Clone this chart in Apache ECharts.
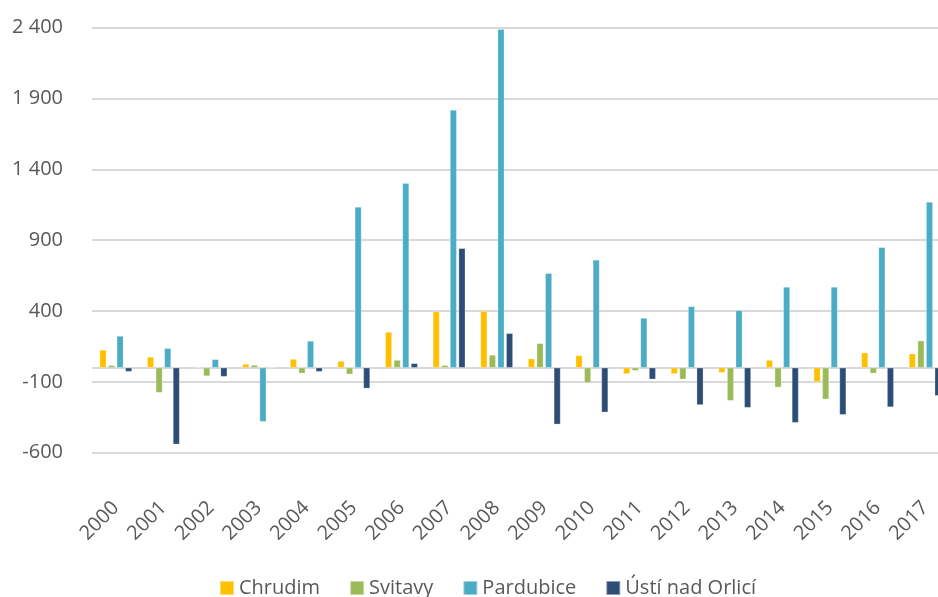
<!DOCTYPE html>
<html>
<head>
<meta charset="utf-8">
<script src="https://cdn.jsdelivr.net/npm/echarts@6/dist/echarts.min.js"></script>
<style>
  html, body { margin: 0; padding: 0; background: #fff; overflow: hidden; }
  #chart { width: 960px; height: 597px; }
</style>
</head>
<body>
<div id="chart"></div>
<script>
// Year-on-year change by district
const years = ['2000','2001','2002','2003','2004','2005','2006','2007','2008',
               '2009','2010','2011','2012','2013','2014','2015','2016','2017'];
const chrudim   = [125, 76, 0, 26, 61, 47, 252, 396, 400, 64, 87, -44, -44, -35, 54, -101, 106, 99];
const svitavy   = [17, -176, -59, 19, -40, -47, 54, 17, 90, 172, -106, -21, -82, -233, -139, -223, -40, 191];
const pardubice = [224, 137, 59, -381, 189, 1135, 1302, 1820, 2390, 667, 761, 351, 433, 405, 570, 570, 850, 1170];
const usti      = [-28, -541, -63, 0, -28, -146, 31, 843, 243, -400, -315, -82, -263, -282, -388, -332, -278, -198];

const seriesNames  = ['Chrudim', 'Svitavy', 'Pardubice', 'Ústí nad Orlicí'];
const seriesData   = [chrudim, svitavy, pardubice, usti];
const seriesColors = ['#FFC000', '#9BBB59', '#4BACC6', '#2C4D75'];

const FONT = '"Open Sans", sans-serif';
const TEXT = '#595959';
const GRID = '#D9D9D9';

function fmt(v) {
  const s = Math.abs(v).toString().replace(/\B(?=(\d{3})+(?!\d))/g, ' ');
  return (v < 0 ? '-' : '') + s;
}

const chart = echarts.init(document.getElementById('chart'), null, { renderer: 'canvas' });

const series = seriesNames.map((name, i) => ({
  name: name,
  type: 'bar',
  data: seriesData[i],
  barWidth: 6.7,
  barGap: '28%',
  itemStyle: { color: seriesColors[i], borderColor: 'rgba(255,255,255,0.45)', borderWidth: 0.6 },
  emphasis: { disabled: true },
  z: 3
}));

// zero baseline
series[0].markLine = {
  silent: true,
  symbol: 'none',
  label: { show: false },
  lineStyle: { color: GRID, width: 1.8, type: 'solid' },
  data: [{ yAxis: 0 }],
  z: 2
};

chart.setOption({
  animation: false,
  backgroundColor: '#ffffff',
  textStyle: { fontFamily: FONT },
  grid: { left: 92, top: 27.7, width: 857, bottom: 144.3, containLabel: false },
  xAxis: {
    type: 'category',
    data: years,
    axisLine: { show: false },
    axisTick: { show: false },
    axisLabel: {
      rotate: 45,
      margin: 52,
      color: TEXT,
      fontSize: 20,
      fontFamily: FONT,
      interval: 0
    },
    splitLine: { show: false }
  },
  yAxis: {
    type: 'value',
    min: -600,
    max: 2400,
    interval: 500,
    axisLine: { show: false },
    axisTick: { show: false },
    axisLabel: {
      margin: 29,
      color: TEXT,
      fontSize: 20,
      fontFamily: FONT,
      formatter: fmt
    },
    splitLine: { lineStyle: { color: GRID, width: 1.8 } }
  },
  legend: {
    left: 219,
    top: 578,
    padding: 0,
    itemWidth: 14,
    itemHeight: 14,
    itemGap: 29,
    icon: 'rect',
    textStyle: { color: TEXT, fontSize: 20, fontFamily: FONT },
    data: seriesNames
  },
  series: series
});
</script>
</body>
</html>
